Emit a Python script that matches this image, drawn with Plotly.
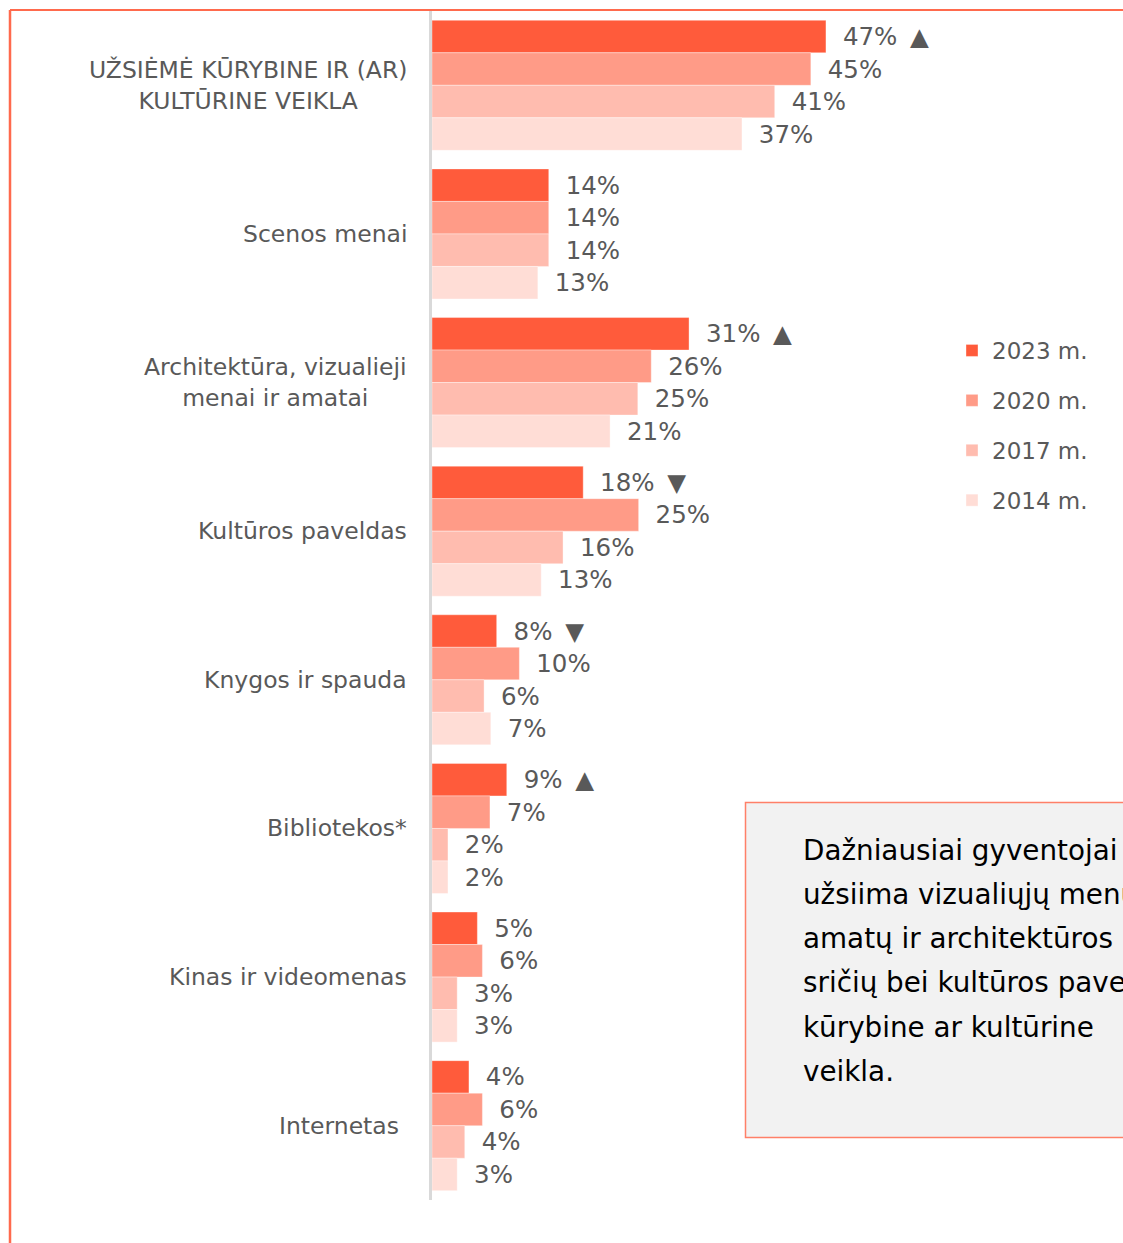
import plotly.graph_objects as go

categories = [
    "UŽSIĖMĖ KŪRYBINE IR (AR)<br>KULTŪRINE VEIKLA",
    "Scenos menai",
    "Architektūra, vizualieji<br>menai ir amatai",
    "Kultūros paveldas",
    "Knygos ir spauda",
    "Bibliotekos*",
    "Kinas ir videomenas",
    "Internetas",
]
series_names = ["2023 m.", "2020 m.", "2017 m.", "2014 m."]
values_2023 = [46.9, 13.9, 30.6, 18.0, 7.7, 8.9, 5.4, 4.4]
values_2020 = [45.1, 13.9, 26.1, 24.6, 10.4, 6.9, 6.0, 6.0]
values_2017 = [40.8, 13.9, 24.5, 15.6, 6.2, 1.9, 3.0, 3.9]
values_2014 = [36.9, 12.6, 21.2, 13.0, 7.0, 1.9, 3.0, 3.0]
labels_2023 = [47, 14, 31, 18, 8, 9, 5, 4]
labels_2020 = [45, 14, 26, 25, 10, 7, 6, 6]
labels_2017 = [41, 14, 25, 16, 6, 2, 3, 4]
labels_2014 = [37, 13, 21, 13, 7, 2, 3, 3]
change_2023 = ["▲", "", "▲", "▼", "▼", "▲", "", ""]
colors = ["#FF5B3B", "#FF9B87", "#FFBCAF", "#FFDDD6"]
note_lines = [
    "Dažniausiai gyventojai",
    "užsiima vizualiųjų menų,",
    "amatų ir architektūros",
    "sričių bei kultūros paveldo",
    "kūrybine ar kultūrine",
    "veikla.",
]

W, H = 1123, 1243
L, R, T, B = 432, 0, 11, 43
PW, PH = W - L - R, H - T - B
PX_PER_UNIT = 8.4
FONT = "DejaVu Sans"
GREY = "#595959"
GAP = "\u00a0\u2005"
MARK_GAP = "\u00a0\u2009"


def px_x(p):
    return (p - L) / PW


def px_y(p):
    return (H - B - p) / PH


all_vals = [values_2023, values_2020, values_2017, values_2014]
all_labels = [labels_2023, labels_2020, labels_2017, labels_2014]
all_marks = [change_2023, [""] * 8, [""] * 8, [""] * 8]

fig = go.Figure()
for i, name in enumerate(series_names):
    texts = []
    for lab, mk in zip(all_labels[i], all_marks[i]):
        t = GAP + f"{lab}%"
        if mk:
            t += MARK_GAP + mk
        texts.append(t)
    fig.add_trace(go.Bar(
        name=name,
        y=categories,
        x=all_vals[i],
        orientation="h",
        marker=dict(color=colors[i], line=dict(width=0.6, color="rgba(255,255,255,0.6)")),
        text=texts,
        textposition="outside",
        textfont=dict(family=FONT, size=24.5, color=GREY),
        constraintext="none",
        cliponaxis=False,
        legendgroup=name,
        hoverinfo="skip",
    ))

annotations = []
for idx, c in enumerate(categories):
    annotations.append(dict(
        x=0, y=c, xref="x", yref="y", text=c, showarrow=False,
        xanchor="right", yanchor="middle", align="center",
        xshift=-31 if idx == len(categories) - 1 else -23,
        font=dict(family=FONT, size=23.5, color=GREY),
    ))

line_y0 = 850
line_step = 44.3
for k, ln in enumerate(note_lines):
    annotations.append(dict(
        x=px_x(801), y=px_y(line_y0 + k * line_step), xref="paper", yref="paper",
        text=ln, showarrow=False, xanchor="left", yanchor="middle",
        font=dict(family=FONT, size=27.8, color="#000000"),
    ))

shapes = [
    dict(type="line", xref="paper", yref="paper", x0=px_x(10), x1=px_x(1130),
         y0=px_y(10), y1=px_y(10), line=dict(color="#FF6A4D", width=2)),
    dict(type="line", xref="paper", yref="paper", x0=px_x(10), x1=px_x(10),
         y0=px_y(10), y1=px_y(1250), line=dict(color="#FF6A4D", width=2.5)),
    dict(type="rect", xref="paper", yref="paper", x0=px_x(745.5), x1=px_x(1150),
         y0=px_y(802.5), y1=px_y(1137.5), fillcolor="#F2F2F2",
         line=dict(color="#FF8068", width=1.5), layer="below"),
]

fig.update_layout(
    width=W, height=H,
    margin=dict(l=L, r=R, t=T, b=B, pad=0),
    paper_bgcolor="white", plot_bgcolor="white",
    barmode="group", bargap=0.125, bargroupgap=0,
    showlegend=True,
    legend=dict(
        x=px_x(952), y=px_y(329), xanchor="left", yanchor="top",
        traceorder="grouped", tracegroupgap=17,
        font=dict(family=FONT, size=23, color=GREY),
        bgcolor="rgba(0,0,0,0)",
    ),
    xaxis=dict(range=[0, PW / PX_PER_UNIT], visible=False, fixedrange=True),
    yaxis=dict(
        autorange="reversed", showticklabels=False, ticks="",
        showline=True, linecolor="#D9D9D9", linewidth=2.5,
        showgrid=False, zeroline=False, fixedrange=True,
    ),
    annotations=annotations,
    shapes=shapes,
    font=dict(family=FONT, color=GREY),
)

fig.write_html(
    "out.html",
    config={"displayModeBar": False},
    post_script="document.body.style.margin='0';document.body.style.overflow='hidden';",
)
